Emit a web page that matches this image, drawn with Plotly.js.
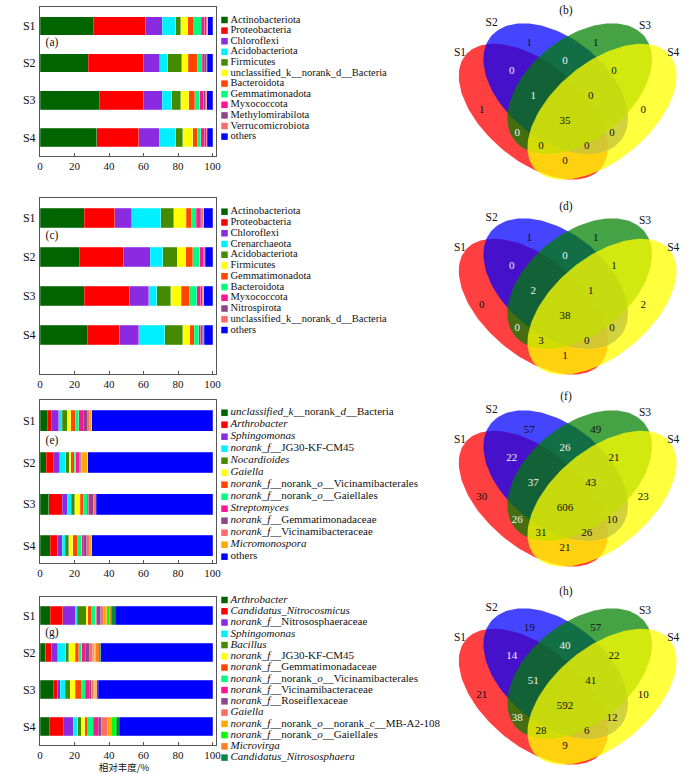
<!DOCTYPE html>
<html><head><meta charset="utf-8">
<script src="https://cdn.plot.ly/plotly-3.0.1.min.js"></script>
<style>html,body{margin:0;padding:0;background:#fff}#chart{width:700px;height:774px}</style>
</head><body><div id="chart"></div>
<script>
// ---------------- DATA ----------------
const samples = ['S1', 'S2', 'S3', 'S4'];
const xTitle = '相对丰度/%';

// (a) phylum, panel 1
const taxaA = ['Actinobacteriota', 'Proteobacteria', 'Chloroflexi', 'Acidobacteriota', 'Firmicutes',
  'unclassified_k__norank_d__Bacteria', 'Bacteroidota', 'Gemmatimonadota', 'Myxococcota',
  'Methylomirabilota', 'Verrucomicrobiota', 'others'];
const valuesA = [
  [30.9, 30.3, 9.6, 7.8, 3.1, 4.0, 3.5, 4.2, 2.2, 0.7, 1.0, 2.7],
  [28.0, 32.2, 9.3, 4.4, 8.3, 3.7, 5.2, 2.9, 1.2, 1.3, 0.4, 3.1],
  [34.2, 26.0, 10.6, 5.6, 5.1, 4.8, 3.5, 2.9, 2.3, 1.1, 0.6, 3.3],
  [32.8, 24.5, 11.8, 9.7, 3.8, 5.8, 2.7, 2.0, 2.3, 0.9, 0.6, 3.1]
];

// (c) phylum, panel 2
const taxaC = ['Actinobacteriota', 'Proteobacteria', 'Chloroflexi', 'Crenarchaeota', 'Acidobacteriota',
  'Firmicutes', 'Gemmatimonadota', 'Bacteroidota', 'Myxococcota', 'Nitrospirota',
  'unclassified_k__norank_d__Bacteria', 'others'];
const valuesC = [
  [25.5, 17.9, 9.9, 16.6, 7.7, 7.3, 3.1, 2.5, 2.4, 0.7, 1.2, 5.2],
  [22.6, 25.9, 15.4, 7.3, 8.3, 5.1, 4.0, 4.1, 2.1, 0.6, 0.5, 4.1],
  [25.7, 26.4, 10.8, 4.9, 7.9, 6.3, 4.9, 3.8, 2.5, 0.8, 0.8, 5.2],
  [27.4, 18.7, 11.2, 15.1, 10.2, 4.3, 2.5, 2.5, 1.4, 1.0, 1.0, 4.7]
];

// (e) genus, panel 3
const taxaE = ['<i>unclassified_k</i>__norank_<i>d</i>__Bacteria', '<i>Arthrobacter</i>', '<i>Sphingomonas</i>',
  '<i>norank_f</i>__JG30-KF-CM45', '<i>Nocardioides</i>', '<i>Gaiella</i>',
  '<i>norank_f</i>__norank_<i>o</i>__Vicinamibacterales', '<i>norank_f</i>__norank_<i>o</i>__Gaiellales',
  '<i>Streptomyces</i>', '<i>norank_f</i>__Gemmatimonadaceae', '<i>norank_f</i>__Vicinamibacteraceae',
  '<i>Micromonospora</i>', 'others'];
const valuesE = [
  [4.3, 2.1, 4.5, 1.9, 3.1, 2.0, 2.5, 2.1, 2.7, 2.4, 1.1, 1.2, 70.1],
  [3.5, 4.3, 3.5, 3.7, 1.9, 1.0, 1.9, 0.8, 2.3, 0.8, 0.6, 3.5, 72.2],
  [5.2, 7.6, 3.1, 2.1, 2.1, 3.1, 1.9, 2.3, 0.8, 2.7, 1.6, 0.2, 67.3],
  [5.8, 4.5, 2.5, 1.9, 2.1, 2.3, 2.9, 2.3, 0.8, 1.9, 1.9, 1.2, 69.9]
];

// (g) genus, panel 4
const taxaG = ['<i>Arthrobacter</i>', '<i>Candidatus_Nitrocosmicus</i>', '<i>norank_f</i>__Nitrososphaeraceae',
  '<i>Sphingomonas</i>', '<i>Bacillus</i>', '<i>norank_f</i>__JG30-KF-CM45', '<i>norank_f</i>__Gemmatimonadaceae',
  '<i>norank_f</i>__norank_<i>o</i>__Vicinamibacterales', '<i>norank_f</i>__Vicinamibacteraceae',
  '<i>norank_f</i>__Roseiflexaceae', '<i>Gaiella</i>', '<i>norank_f</i>__norank_<i>o</i>__norank_<i>c</i>__MB-A2-108',
  '<i>norank_f</i>__norank_<i>o</i>__Gaiellales', '<i>Microvirga</i>', '<i>Candidatus_Nitrososphaera</i>', 'others'];
const valuesG = [
  [5.8, 7.4, 7.3, 1.2, 5.0, 1.0, 2.3, 2.3, 0.6, 2.3, 1.7, 1.7, 1.4, 1.2, 2.3, 56.5],
  [3.3, 3.5, 3.5, 4.6, 1.7, 3.9, 1.9, 1.7, 2.1, 2.7, 1.7, 1.0, 0.8, 1.9, 0.8, 64.9],
  [7.7, 2.7, 1.2, 3.1, 2.7, 3.1, 3.7, 1.9, 2.5, 1.2, 1.2, 0.8, 0.6, 0.6, 0.8, 66.2],
  [5.4, 8.1, 5.8, 2.7, 1.9, 2.1, 1.7, 3.1, 2.9, 1.9, 3.3, 2.3, 2.3, 0.8, 1.7, 54.0]
];

// Venn region counts, order: S1, S2, S3, S4, S1&S2, S2&S3, S3&S4, S1&S2&S3, S2&S3&S4,
// all, S1&S3, S2&S4, S1&S3&S4, S1&S2&S4, S1&S4
const vennRegions = ['S1', 'S2', 'S3', 'S4', 'S1∩S2', 'S2∩S3', 'S3∩S4', 'S1∩S2∩S3', 'S2∩S3∩S4',
  'S1∩S2∩S3∩S4', 'S1∩S3', 'S2∩S4', 'S1∩S3∩S4', 'S1∩S2∩S4', 'S1∩S4'];
const vennB = [1, 1, 1, 0, 0, 0, 0, 1, 0, 35, 0, 0, 0, 0, 0];
const vennD = [0, 1, 1, 2, 0, 0, 1, 2, 1, 38, 0, 0, 3, 0, 1];
const vennF = [30, 57, 49, 23, 22, 26, 21, 37, 43, 606, 26, 10, 31, 26, 21];
const vennH = [21, 19, 57, 10, 14, 40, 22, 51, 41, 592, 38, 12, 28, 6, 9];

// ---------------- STYLE / LAYOUT CONSTANTS ----------------
const SERIF = '"Times New Roman", "Liberation Serif", "DejaVu Serif", serif';
const palette = ['#006400', '#FF0000', '#8A2BE2', '#00F0FF', '#458B00', '#FFFF00', '#FF4500', '#00FF7F',
  '#FF1493', '#8B4789', '#FF6A6A', '#FFAA00', '#00FF00', '#FF7F24', '#008B45'];
const OTHERS = '#0000FF';
const W = 700, H = 774;

const panels = [
  {taxa: taxaA, vals: valuesA, box: [40, 216, 7.3, 156], yr: [3.5, -0.5], letter: '(a)', ly: 43,
   leg: {y0: 20, dy: 10.6, fs: 10.5, n: 12}},
  {taxa: taxaC, vals: valuesC, box: [40, 216, 198.3, 374], yr: [4.0, -0.5], letter: '(c)', ly: 236,
   leg: {y0: 211.7, dy: 10.76, fs: 10.5, n: 12}},
  {taxa: taxaE, vals: valuesE, box: [40, 216, 400, 563], yr: [3.41, -0.5], letter: '(e)', ly: 441,
   leg: {y0: 412.7, dy: 12.0, fs: 11, n: 13}},
  {taxa: taxaG, vals: valuesG, box: [40, 216, 597, 745], yr: [3.5, -0.5], letter: '(g)', ly: 633,
   leg: {y0: 600, dy: 11.26, fs: 11, n: 15}}
];

function colorFor(taxa, i) { return taxa[i] === 'others' ? OTHERS : palette[i]; }

const traces = [];
const layout = {
  width: W, height: H, margin: {l: 0, r: 0, t: 0, b: 0},
  paper_bgcolor: '#fff', plot_bgcolor: 'rgba(0,0,0,0)',
  barmode: 'stack', showlegend: false,
  font: {family: SERIF, size: 11, color: '#111'}
};

panels.forEach((p, k) => {
  const xa = k === 0 ? 'x' : 'x' + (k + 1), ya = k === 0 ? 'y' : 'y' + (k + 1);
  const xk = k === 0 ? 'xaxis' : 'xaxis' + (k + 1), yk = k === 0 ? 'yaxis' : 'yaxis' + (k + 1);
  p.taxa.forEach((name, i) => {
    traces.push({
      type: 'bar', orientation: 'h', name: name,
      x: p.vals.map(row => row[i]), y: samples,
      xaxis: xa, yaxis: ya, width: 0.5,
      marker: {color: colorFor(p.taxa, i), line: {color: 'rgba(255,255,255,0.55)', width: 0.4}},
      hovertemplate: '%{y}: %{x}%<extra>' + name + '</extra>'
    });
  });
  const [x0, x1, y0, y1] = p.box;
  layout[xk] = {
    domain: [x0 / W, x1 / W], anchor: ya, range: [0, 102], tickvals: [0, 20, 40, 60, 80, 100],
    ticks: 'inside', ticklen: 3, tickcolor: '#555', showline: true, linecolor: '#555', linewidth: 1,
    mirror: true, showgrid: false, zeroline: false, fixedrange: true,
    tickfont: {family: SERIF, size: 11, color: '#111'}
  };
  layout[yk] = {
    domain: [1 - y1 / H, 1 - y0 / H], anchor: xa, type: 'category', range: p.yr,
    ticks: '', showline: true, linecolor: '#555', linewidth: 1, mirror: true, showgrid: false,
    zeroline: false, fixedrange: true, ticklabelstandoff: 1,
    tickfont: {family: SERIF, size: 12, color: '#111'}
  };
});

// overlay axis in pixel units for legends, labels and Venn diagrams
layout.xaxis5 = {domain: [0, 1], range: [0, W], visible: false, fixedrange: true};
layout.yaxis5 = {domain: [0, 1], range: [H, 0], visible: false, fixedrange: true};
const OV = {xaxis: 'x5', yaxis: 'y5', hoverinfo: 'skip', showlegend: false, cliponaxis: false};

// x-axis title of the bottom bar panel
traces.push(Object.assign({
  type: 'scatter', mode: 'text', x: [124], y: [769], text: [xTitle], textposition: 'middle center',
  textfont: {family: '"Noto Sans CJK SC", sans-serif', size: 9.5, color: '#111'}
}, OV));

// Legends (swatch + label)
panels.forEach(p => {
  const L = p.leg, names = p.taxa.slice(0, L.n);
  const ys = names.map((_, i) => L.y0 + i * L.dy);
  traces.push(Object.assign({
    type: 'scatter', mode: 'markers', x: names.map(() => 224.5), y: ys,
    marker: {symbol: 'square', size: 6.5, color: names.map((_, i) => colorFor(p.taxa, i)), line: {width: 0}}
  }, OV));
  traces.push(Object.assign({
    type: 'scatter', mode: 'text', x: names.map(() => 230.5), y: ys, text: names,
    textposition: 'middle right', textfont: {family: SERIF, size: L.fs, color: '#111'}
  }, OV));
});

// Panel letters for bar charts
traces.push(Object.assign({
  type: 'scatter', mode: 'text', x: panels.map(() => 52), y: panels.map(p => p.ly),
  text: panels.map(p => p.letter), textposition: 'middle center',
  textfont: {family: SERIF, size: 11.5, color: '#111'}
}, OV));

// Venn diagrams
const vennSets = [vennB, vennD, vennF, vennH];
const vennLetters = ['(b)', '(d)', '(f)', '(h)'];
const vennOffsets = [0, 195, 387, 585];
const vennLetterY = [11, 206.7, 396.7, 591.7];
const VX = 440;
const ellipses = [ // local px: cx, cy, a, b, angle(deg, clockwise), fill
  {cx: 93.3, cy: 111.7, a: 88.3, b: 48.7, ang: 40, fill: 'rgba(255,0,0,0.75)'},
  {cx: 115.7, cy: 88.7, a: 83.2, b: 50.8, ang: 38.6, fill: 'rgba(0,0,255,0.73)'},
  {cx: 139.7, cy: 88.7, a: 83.2, b: 50.8, ang: -38.6, fill: 'rgba(0,128,0,0.73)'},
  {cx: 162.0, cy: 111.7, a: 88.3, b: 48.7, ang: -40, fill: 'rgba(255,255,0,0.76)'}
];
const regionPos = [[41.7, 110], [89.3, 43.3], [155.7, 43.3], [203.3, 110], [71.7, 71.7], [125, 61.7],
  [174, 71.7], [93.3, 96.7], [150.7, 96.7], [125, 121.7], [77.3, 133.3], [172, 133.3], [101, 146.7],
  [146.7, 146.7], [125, 161.7]];
const darkRegions = [4, 5, 7, 10];
const setLabelPos = [[20, 53.3], [51.7, 23.3], [205, 26], [233.3, 53.3]];

vennSets.forEach((counts, v) => {
  const oy = vennOffsets[v];
  ellipses.forEach((e, si) => {
    const t = e.ang * Math.PI / 180, xs = [], ys = [];
    for (let k = 0; k <= 144; k++) {
      const ph = 2 * Math.PI * k / 144, ex = e.a * Math.cos(ph), ey = e.b * Math.sin(ph);
      xs.push(VX + e.cx + ex * Math.cos(t) - ey * Math.sin(t));
      ys.push(oy + e.cy + ex * Math.sin(t) + ey * Math.cos(t));
    }
    traces.push(Object.assign({
      type: 'scatter', mode: 'lines', x: xs, y: ys, fill: 'toself', fillcolor: e.fill,
      line: {width: 0, color: 'rgba(0,0,0,0)'}, name: samples[si]
    }, OV));
  });
  traces.push(Object.assign({
    type: 'scatter', mode: 'text', x: regionPos.map(p => VX + p[0]), y: regionPos.map(p => oy + p[1]),
    text: counts.map(String), textposition: 'middle center',
    textfont: {family: SERIF, size: 11, color: counts.map((_, i) => darkRegions.includes(i) ? '#f4f4f4' : '#111')},
    customdata: vennRegions
  }, OV));
  traces.push(Object.assign({
    type: 'scatter', mode: 'text', x: setLabelPos.map(p => VX + p[0]).concat([VX + 126]),
    y: setLabelPos.map(p => oy + p[1]).concat([vennLetterY[v]]),
    text: samples.concat([vennLetters[v]]), textposition: 'middle center',
    textfont: {family: SERIF, size: 11.5, color: '#111'}
  }, OV));
});

Plotly.newPlot('chart', traces, layout, {displayModeBar: false, staticPlot: true});
</script>
</body></html>
